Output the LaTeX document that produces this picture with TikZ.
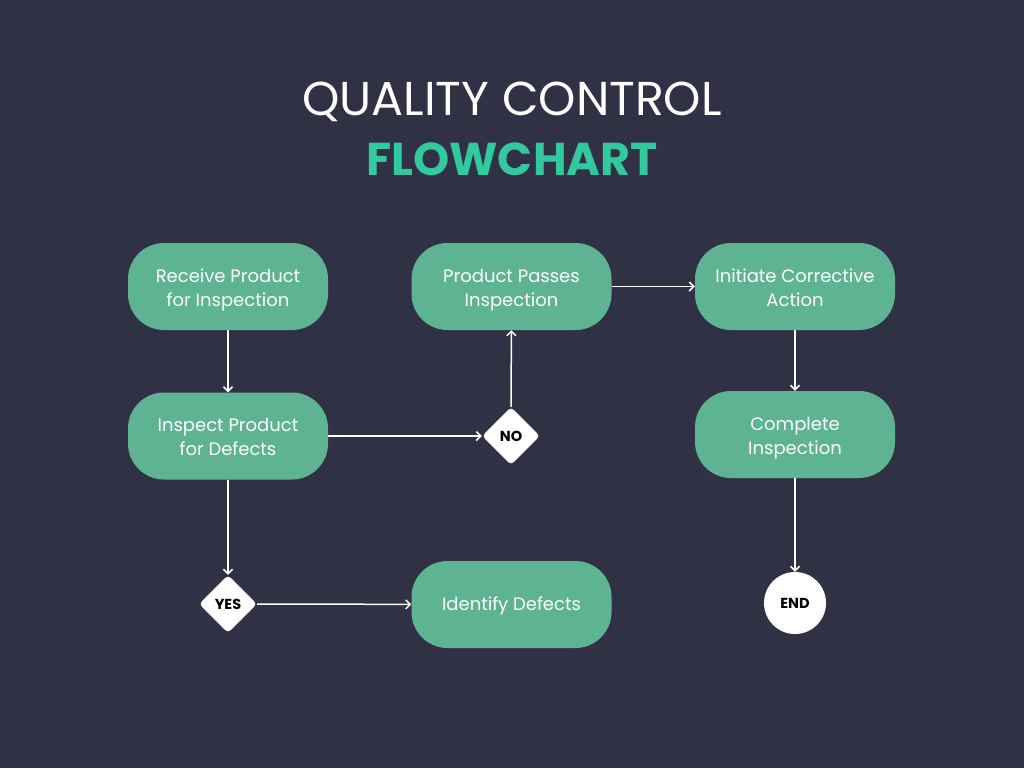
\documentclass[tikz,border=0pt]{standalone}
\usepackage{fontspec}
\setmainfont{Poppins}
\usetikzlibrary{shapes.geometric,arrows.meta}
\definecolor{bg}{HTML}{303145}
\definecolor{boxg}{HTML}{5EB393}
\definecolor{titleg}{HTML}{32C99E}
\begin{document}
\begin{tikzpicture}[x=1pt,y=-1pt,
  procbox/.style={fill=boxg, rounded corners=36pt, minimum width=200pt, minimum height=87pt,
    align=center, text=white, inner sep=0pt, font=\fontsize{18}{24}\selectfont,
    text height=44pt, text depth=5pt},
  procone/.style={procbox, text height=16pt, text depth=5pt},
  decis/.style={diamond, fill=white, rounded corners=4pt, minimum width=58pt, minimum height=58pt,
    inner sep=0pt, text=black, font=\fontsize{14.5}{16}\bfseries\selectfont},
  endc/.style={circle, fill=white, minimum size=62pt, inner sep=0pt, text=black, font=\fontsize{14.5}{16}\bfseries\selectfont},
  flow/.style={draw=white, line width=1.5pt, -{Straight Barb[length=4.5pt,width=9pt,line width=1.5pt]}}]
\fill[bg] (0,0) rectangle (1024,768);
\useasboundingbox (0,0) rectangle (1024,768);
\node[text=white, font=\fontsize{47.5}{50}\selectfont] (t1) at (512,102) {QUALITY CONTROL};
\node[text=titleg, font=\fontsize{46}{50}\bfseries\selectfont] (t2) at (512,159) {FLOWCHART};
\node[procbox] (b1) at (228,286.5) {Receive Product\\for Inspection};
\node[procbox] (b2) at (228,436) {Inspect Product\\for Defects};
\node[procbox] (b3) at (511.5,286.5) {Product Passes\\Inspection};
\node[procbox] (b4) at (795,286.5) {Initiate Corrective\\Action};
\node[procbox] (b5) at (795,434.5) {Complete\\Inspection};
\node[procone] (b6) at (511.5,604.5) {Identify Defects};
\node[decis] (no) at (511,436) {NO};
\node[decis] (yes) at (228,604) {YES};
\node[endc] (end) at (795,603) {END};
\draw[flow] (b1) -- (b2);
\draw[flow] (b2) -- (no);
\draw[flow] (no) -- (b3);
\draw[flow] (b3) -- (b4);
\draw[flow] (b4) -- (b5);
\draw[flow] (b2) -- (yes);
\draw[flow] (yes) -- (b6);
\draw[flow] (b5) -- (end);
\end{tikzpicture}
\end{document}
